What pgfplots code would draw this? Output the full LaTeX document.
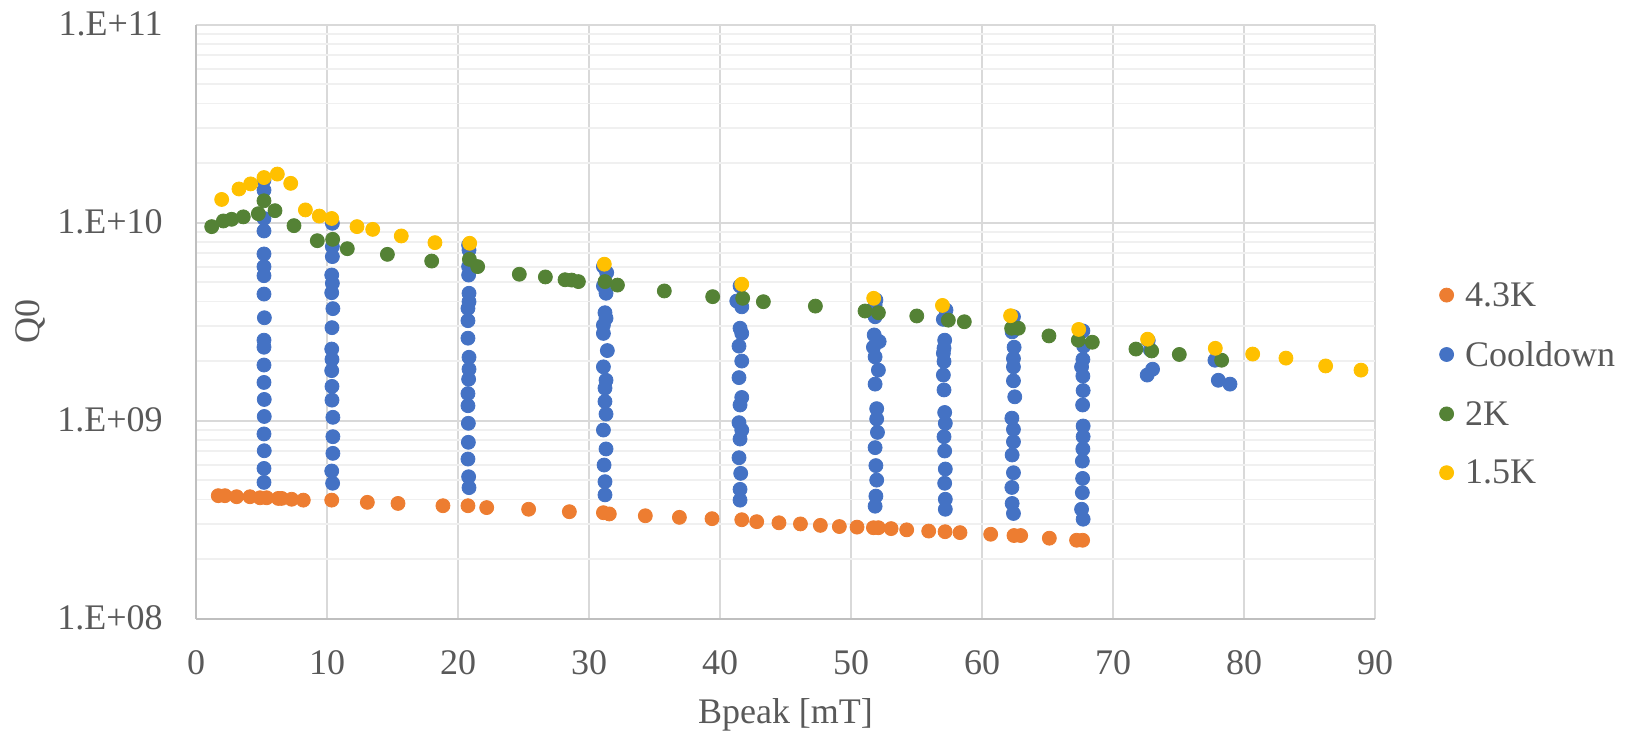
\documentclass[border=0pt]{standalone}
\usepackage{fontspec}
\setmainfont{Liberation Serif}
\usepackage{pgfplots}
\pgfplotsset{compat=1.18}
\definecolor{cA}{HTML}{ED7D31}
\definecolor{cB}{HTML}{4472C4}
\definecolor{cC}{HTML}{548235}
\definecolor{cD}{HTML}{FFC000}
\definecolor{txt}{HTML}{595959}
\definecolor{majg}{HTML}{D9D9D9}
\definecolor{ming}{HTML}{F0F0F0}
\definecolor{axl}{HTML}{BFBFBF}
\newcommand\cf{\fontsize{18pt}{21.6pt}\selectfont}
\begin{document}
\begin{tikzpicture}
\useasboundingbox (0,0) rectangle (812.5pt,366.5pt);
\begin{axis}[
  at={(98pt,57.15pt)}, anchor=south west,
  scale only axis, width=589.5pt, height=297pt,
  xmin=0, xmax=90, ymode=log, ymin=1e8, ymax=1e11,
  xtick={0,10,20,30,40,50,60,70,80,90},
  ytick={1e8,1e9,1e10,1e11},
  yticklabels={1.E+08,1.E+09,1.E+10,1.E+11},
  minor ytick={2e8,3e8,4e8,5e8,6e8,7e8,8e8,9e8,2e9,3e9,4e9,5e9,6e9,7e9,8e9,9e9,2e10,3e10,4e10,5e10,6e10,7e10,8e10,9e10},
  xmajorgrids, ymajorgrids, yminorgrids,
  major grid style={majg, line width=1pt},
  minor grid style={ming, line width=0.9pt},
  axis lines*=left,
  axis line style={axl, line width=1pt},
  major tick length=0pt, minor tick length=0pt,
  /pgf/number format/assume math mode=true,
  xticklabel style={font=\cf, text=txt, inner sep=0pt, anchor=base, yshift=-27.8pt},
  yticklabel style={font=\cf, text=txt, inner sep=0pt, anchor=base east, xshift=-16.5pt, yshift=-5.2pt},
  xlabel={Bpeak [mT]},
  xlabel style={at={(axis description cs:0.5,0)}, anchor=base, yshift=-52.3pt, inner sep=0pt, font=\cf, text=txt},
  ylabel={Q0},
  ylabel style={at={(axis description cs:-0.1408,0.5)}, anchor=center, inner sep=0pt, font=\cf, text=txt},
  legend style={at={(axis description cs:1.0548,0.566)}, anchor=north west, draw=none, fill=none, inner sep=0pt, outer sep=0pt, font=\cf, text=txt, row sep=16pt, nodes={inner sep=0pt}},
  legend cell align=left,
  /tikz/every odd column/.append style={column sep=5.8pt},
  legend image code/.code={\draw[#1] plot coordinates {(3.7pt,0.4pt)};},
]
\addplot[only marks, mark=*, mark size=3.5pt, cA] coordinates {
(1.70,4.18e8) (2.21,4.18e8) (3.10,4.13e8) (4.12,4.13e8) (4.89,4.08e8) (5.39,4.08e8) (6.28,4.05e8) (6.54,4.05e8) (7.30,4.01e8) (8.19,3.97e8) (10.36,3.97e8) (13.08,3.87e8) (15.42,3.82e8) (18.85,3.72e8) (20.76,3.72e8) (22.19,3.64e8) (25.39,3.57e8) (28.50,3.47e8) (31.10,3.43e8) (31.55,3.38e8) (34.30,3.31e8) (36.90,3.25e8) (39.39,3.20e8) (41.66,3.16e8) (42.80,3.09e8) (44.50,3.05e8) (46.14,3.01e8) (47.66,2.96e8) (49.11,2.92e8) (50.46,2.90e8) (51.71,2.88e8) (52.09,2.88e8) (53.06,2.85e8) (54.25,2.81e8) (55.93,2.77e8) (57.18,2.75e8) (58.32,2.72e8) (60.66,2.67e8) (62.44,2.63e8) (62.95,2.63e8) (65.14,2.55e8) (67.22,2.49e8) (67.68,2.49e8)
};
\addlegendentry{4.3K}
\addplot[only marks, mark=*, mark size=3.5pt, cB] coordinates {
(5.19,1.64e10) (5.19,1.46e10) (5.19,1.05e10) (5.19,9.08e9) (5.19,6.95e9) (5.19,6.0e9) (5.19,5.40e9) (5.19,4.36e9) (5.22,3.31e9) (5.19,2.55e9) (5.19,2.35e9) (5.19,1.91e9) (5.19,1.56e9) (5.21,1.28e9) (5.21,1.05e9) (5.19,8.57e8) (5.21,7.05e8) (5.19,5.74e8) (5.19,4.88e8)
(10.41,9.93e9) (10.41,7.57e9) (10.41,6.74e9) (10.36,5.44e9) (10.41,4.94e9) (10.36,4.43e9) (10.45,3.68e9) (10.38,2.95e9) (10.36,2.30e9) (10.38,2.04e9) (10.36,1.79e9) (10.38,1.49e9) (10.38,1.27e9) (10.45,1.04e9) (10.45,8.30e8) (10.45,6.84e8) (10.36,5.57e8) (10.43,4.83e8)
(20.81,7.71e9) (20.84,7.27e9) (20.81,6.0e9) (20.81,5.44e9) (20.84,4.40e9) (20.84,3.99e9) (20.76,3.69e9) (20.76,3.20e9) (20.76,2.61e9) (20.84,2.09e9) (20.84,1.82e9) (20.81,1.62e9) (20.76,1.37e9) (20.76,1.19e9) (20.79,9.70e8) (20.79,7.78e8) (20.76,6.40e8) (20.81,5.21e8) (20.84,4.59e8)
(31.10,6.0e9) (31.35,5.59e9) (31.10,4.79e9) (31.30,4.40e9) (31.22,3.51e9) (31.30,3.29e9) (31.10,3.04e9) (31.10,2.76e9) (31.40,2.26e9) (31.10,1.87e9) (31.30,1.60e9) (31.22,1.46e9) (31.22,1.25e9) (31.30,1.08e9) (31.10,8.97e8) (31.30,7.20e8) (31.15,5.97e8) (31.22,4.92e8) (31.22,4.22e8)
(41.53,4.79e9) (41.28,4.02e9) (41.66,3.76e9) (41.53,2.93e9) (41.66,2.76e9) (41.45,2.38e9) (41.66,2.00e9) (41.45,1.65e9) (41.66,1.31e9) (41.53,1.20e9) (41.45,9.77e8) (41.66,8.97e8) (41.53,8.08e8) (41.45,6.50e8) (41.58,5.42e8) (41.53,4.50e8) (41.53,3.97e8)
(51.90,4.07e9) (51.84,3.84e9) (51.84,3.35e9) (51.77,2.71e9) (52.15,2.51e9) (51.71,2.35e9) (51.84,2.10e9) (52.09,1.80e9) (51.84,1.53e9) (51.96,1.15e9) (51.96,1.02e9) (52.02,8.73e8) (51.84,7.31e8) (51.90,5.93e8) (51.96,5.01e8) (51.90,4.16e8) (51.84,3.70e8)
(57.25,3.62e9) (57.05,3.25e9) (57.15,2.55e9) (57.10,2.32e9) (57.05,2.19e9) (57.10,1.99e9) (57.05,1.70e9) (57.10,1.43e9) (57.15,1.10e9) (57.20,9.70e8) (57.10,8.30e8) (57.15,7.03e8) (57.20,5.70e8) (57.15,4.83e8) (57.20,4.01e8) (57.20,3.57e8)
(62.40,3.35e9) (62.30,2.81e9) (62.45,2.35e9) (62.40,2.06e9) (62.40,1.87e9) (62.40,1.59e9) (62.50,1.32e9) (62.28,1.03e9) (62.40,9.04e8) (62.40,7.83e8) (62.30,6.71e8) (62.40,5.46e8) (62.28,4.60e8) (62.30,3.82e8) (62.40,3.40e8)
(67.70,2.84e9) (67.76,2.38e9) (67.70,2.04e9) (67.60,1.87e9) (67.70,1.68e9) (67.72,1.42e9) (67.68,1.20e9) (67.72,9.40e8) (67.72,8.30e8) (67.70,7.20e8) (67.66,6.25e8) (67.68,5.11e8) (67.66,4.33e8) (67.60,3.57e8) (67.72,3.18e8)
(72.69,2.54e9) (72.85,2.28e9) (73.02,1.82e9) (72.61,1.70e9) (77.78,2.02e9) (78.04,1.60e9) (78.93,1.53e9)
};
\addlegendentry{Cooldown}
\addplot[only marks, mark=*, mark size=3.5pt, cC] coordinates {
(1.20,9.55e9) (2.09,1.02e10) (2.72,1.04e10) (3.61,1.07e10) (4.76,1.11e10) (5.19,1.29e10) (6.03,1.15e10) (7.48,9.66e9) (9.26,8.11e9) (10.43,8.24e9) (11.55,7.39e9) (14.61,6.92e9) (17.99,6.40e9) (20.87,6.53e9) (21.50,6.0e9) (24.68,5.49e9) (26.67,5.32e9) (28.17,5.15e9) (28.68,5.13e9) (29.19,5.04e9) (31.22,5.04e9) (32.17,4.84e9) (35.75,4.52e9) (39.44,4.23e9) (41.73,4.15e9) (43.31,3.99e9) (47.28,3.79e9) (51.07,3.58e9) (52.09,3.51e9) (55.02,3.38e9) (57.43,3.22e9) (58.65,3.16e9) (62.26,2.93e9) (62.77,2.93e9) (65.11,2.68e9) (67.35,2.55e9) (68.42,2.49e9) (71.75,2.30e9) (72.95,2.25e9) (75.06,2.16e9) (78.29,2.02e9)
};
\addlegendentry{2K}
\addplot[only marks, mark=*, mark size=3.5pt, cD] coordinates {
(1.96,1.31e10) (3.28,1.48e10) (4.17,1.57e10) (5.19,1.69e10) (6.21,1.76e10) (7.23,1.58e10) (8.35,1.16e10) (9.41,1.08e10) (10.36,1.05e10) (12.29,9.55e9) (13.49,9.25e9) (15.67,8.57e9) (18.24,7.93e9) (20.89,7.87e9) (31.17,6.17e9) (41.66,4.89e9) (51.73,4.15e9) (56.98,3.82e9) (62.18,3.39e9) (67.38,2.89e9) (72.64,2.58e9) (77.81,2.32e9) (80.66,2.17e9) (83.20,2.07e9) (86.23,1.89e9) (88.93,1.80e9)
};
\addlegendentry{1.5K}
\end{axis}
\end{tikzpicture}
\end{document}
